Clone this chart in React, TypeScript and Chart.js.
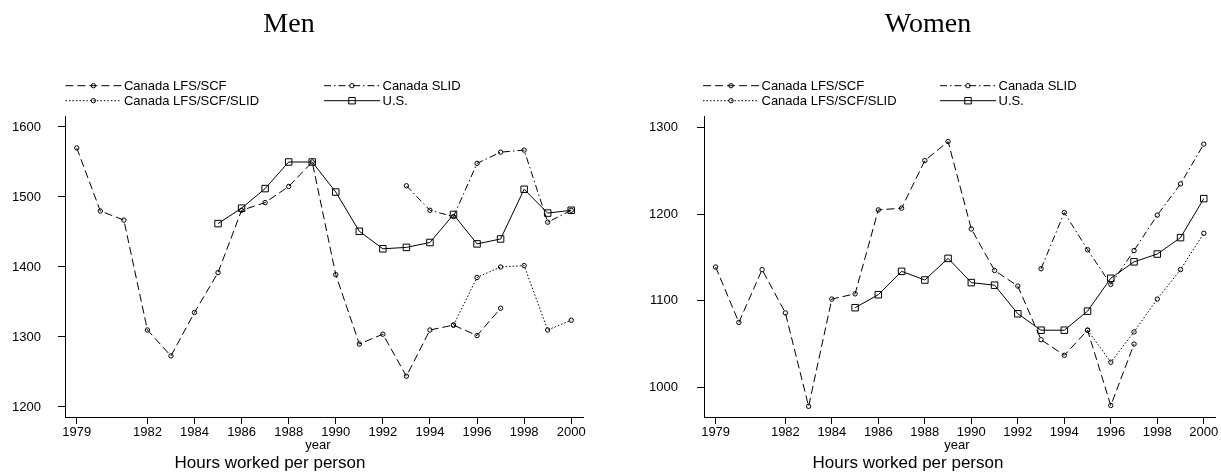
import React, { useEffect, useRef } from "react";
import { Chart, registerables } from "chart.js";

Chart.register(...registerables);

// ---------------- data ----------------
const years = [
  1979, 1980, 1981, 1982, 1983, 1984, 1985, 1986, 1987, 1988, 1989,
  1990, 1991, 1992, 1993, 1994, 1995, 1996, 1997, 1998, 1999, 2000,
];
const xTickYears = [1979, 1982, 1984, 1986, 1988, 1990, 1992, 1994, 1996, 1998, 2000];

const menYTicks = [1200, 1300, 1400, 1500, 1600];
const womenYTicks = [1000, 1100, 1200, 1300];

const seriesLabels = ["Canada LFS/SCF", "Canada SLID", "Canada LFS/SCF/SLID", "U.S."];

const menLfsScf = [
  1570, 1480, 1467, 1310, 1273, 1335, 1392, 1481, 1492, 1515, 1550,
  1389, 1290, 1304, 1244, 1310, 1317, 1302, 1341, null, null, null,
];
const menSlid = [
  null, null, null, null, null, null, null, null, null, null, null,
  null, null, null, 1516, 1481, 1472, 1548, 1564, 1567, 1464, 1481,
];
const menLfsScfSlid = [
  null, null, null, null, null, null, null, null, null, null, null,
  null, null, null, null, null, 1317, 1385, 1400, 1402, 1310, 1324,
];
const menUS = [
  null, null, null, null, null, null, 1462, 1484, 1512, 1550, 1550,
  1507, 1451, 1426, 1428, 1435, 1475, 1433, 1440, 1511, 1477, 1481,
];

const womenLfsScf = [
  1139, 1075, 1136, 1086, 978, 1102, 1108, 1205, 1207, 1262, 1284,
  1183, 1135, 1117, 1055, 1037, 1066, 979, 1050, null, null, null,
];
const womenSlid = [
  null, null, null, null, null, null, null, null, null, null, null,
  null, null, null, 1137, 1202, 1159, 1119, 1158, 1199, 1235, 1281,
];
const womenLfsScfSlid = [
  null, null, null, null, null, null, null, null, null, null, null,
  null, null, null, null, null, 1066, 1029, 1064, 1102, 1136, 1178,
];
const womenUS = [
  null, null, null, null, null, null, 1092, 1107, 1134, 1124, 1149,
  1121, 1118, 1085, 1066, 1066, 1088, 1126, 1145, 1154, 1173, 1218,
];

// ---------------- styles ----------------
const W = 1221;
const H = 474;
const SANS = "'Liberation Sans', Arial, Helvetica, sans-serif";
const SERIF = "'Liberation Serif', 'Times New Roman', serif";
const INK = "#000";

const lineStyles = [
  { dash: [8, 4], point: "circle", radius: 2.2 },
  { dash: [7, 3, 1.5, 3], point: "circle", radius: 2.2 },
  { dash: [1.5, 2], point: "circle", radius: 2.2 },
  { dash: [], point: "rect", radius: 4.6 },
];

function toPoints(vals: (number | null)[]) {
  const pts: { x: number; y: number }[] = [];
  vals.forEach((v, i) => {
    if (v !== null) pts.push({ x: years[i], y: v });
  });
  return pts;
}

const textPlugin = {
  id: "panelText",
  afterDraw(chart: any, _args: any, opts: any) {
    const ctx = chart.ctx;
    ctx.save();
    ctx.fillStyle = INK;
    // title
    ctx.font = `28px ${SERIF}`;
    ctx.textAlign = "center";
    ctx.textBaseline = "alphabetic";
    ctx.fillText(opts.title, opts.titleX, opts.titleY);
    // x axis title
    ctx.font = `13px ${SANS}`;
    ctx.fillText("year", opts.yearX, opts.yearY);
    // caption
    ctx.font = `17px ${SANS}`;
    ctx.fillText("Hours worked per person", opts.capX, opts.capY);
    // legend
    ctx.font = `13px ${SANS}`;
    ctx.textAlign = "left";
    ctx.textBaseline = "middle";
    chart.data.datasets.forEach((ds: any, i: number) => {
      const col = i % 2;
      const row = Math.floor(i / 2);
      const x0 = opts.legendCols[col];
      const y0 = opts.legendRows[row];
      const len = 56;
      ctx.save();
      ctx.strokeStyle = INK;
      ctx.lineWidth = 1;
      ctx.setLineDash(ds.borderDash || []);
      ctx.beginPath();
      ctx.moveTo(x0, y0);
      ctx.lineTo(x0 + len, y0);
      ctx.stroke();
      ctx.setLineDash([]);
      const mx = x0 + len / 2;
      ctx.beginPath();
      if (ds.pointStyle === "rect") {
        const s = ds.pointRadius * Math.SQRT1_2;
        ctx.rect(mx - s, y0 - s, 2 * s, 2 * s);
      } else {
        ctx.arc(mx, y0, ds.pointRadius, 0, Math.PI * 2);
      }
      ctx.stroke();
      ctx.restore();
      ctx.fillText(ds.label, x0 + len + 2.5, y0 + 0.5);
    });
    ctx.restore();
  },
};

interface Panel {
  title: string;
  series: (number | null)[][];
  yTicks: number[];
  yMin: number;
  yMax: number;
  left: number;
  right: number;
  top: number;
  bottom: number;
  titleX: number;
  yearX: number;
  capX: number;
  legendCols: number[];
  yPad: number;
}

function makeConfig(p: Panel): any {
  const datasets = p.series.map((vals, i) => ({
    label: seriesLabels[i],
    data: toPoints(vals),
    borderColor: INK,
    borderWidth: 1,
    borderDash: lineStyles[i].dash,
    pointStyle: lineStyles[i].point,
    pointRadius: lineStyles[i].radius,
    pointBorderColor: INK,
    pointBackgroundColor: "rgba(0,0,0,0)",
    pointBorderWidth: 1,
    fill: false,
    tension: 0,
    spanGaps: false,
  }));
  return {
    type: "line",
    data: { datasets },
    options: {
      responsive: false,
      animation: false,
      events: [],
      layout: { padding: { left: 0, top: p.top, right: W - p.right, bottom: 0 } },
      plugins: {
        legend: { display: false },
        tooltip: { enabled: false },
        title: { display: false },
        panelText: {
          title: p.title,
          titleX: p.titleX,
          titleY: 32,
          yearX: p.yearX,
          yearY: 449,
          capX: p.capX,
          capY: 468,
          legendCols: p.legendCols,
          legendRows: [85.7, 100.7],
        },
      },
      scales: {
        x: {
          type: "linear",
          min: 1978.5,
          max: 2000.5,
          afterBuildTicks: (s: any) => {
            s.ticks = xTickYears.map((v) => ({ value: v }));
          },
          afterFit: (s: any) => {
            s.height = H - p.bottom;
          },
          ticks: {
            autoSkip: false,
            maxRotation: 0,
            minRotation: 0,
            padding: 1,
            color: INK,
            font: { family: SANS, size: 13 },
            callback: (v: any) => String(v),
          },
          grid: { drawOnChartArea: false, drawTicks: true, tickLength: 7, color: INK, lineWidth: 1 },
          border: { display: true, color: INK, width: 1 },
        },
        y: {
          type: "linear",
          min: p.yMin,
          max: p.yMax,
          afterBuildTicks: (s: any) => {
            s.ticks = p.yTicks.map((v) => ({ value: v }));
          },
          afterFit: (s: any) => {
            s.width = p.left;
          },
          ticks: {
            padding: p.yPad,
            color: INK,
            font: { family: SANS, size: 13 },
            callback: (v: any) => String(v),
          },
          grid: { drawOnChartArea: false, drawTicks: true, tickLength: 7, color: INK, lineWidth: 1 },
          border: { display: true, color: INK, width: 1 },
        },
      },
    },
    plugins: [textPlugin],
  };
}

const menPanel: Panel = {
  title: "Men",
  series: [menLfsScf, menSlid, menLfsScfSlid, menUS],
  yTicks: menYTicks,
  yMin: 1185.7,
  yMax: 1615.7,
  left: 65,
  right: 583,
  top: 116,
  bottom: 417,
  titleX: 289,
  yearX: 318,
  capX: 270,
  legendCols: [65.4, 324],
  yPad: 17,
};

const womenPanel: Panel = {
  title: "Women",
  series: [womenLfsScf, womenSlid, womenLfsScfSlid, womenUS],
  yTicks: womenYTicks,
  yMin: 965.7,
  yMax: 1313.5,
  left: 704,
  right: 1220,
  top: 116,
  bottom: 417,
  titleX: 928,
  yearX: 957,
  capX: 908,
  legendCols: [703, 940],
  yPad: 19,
};

function ChartCanvas({ panel }: { panel: Panel }) {
  const ref = useRef<HTMLCanvasElement>(null);
  useEffect(() => {
    if (!ref.current) return;
    const chart = new Chart(ref.current, makeConfig(panel));
    return () => chart.destroy();
  }, [panel]);
  return (
    <canvas
      ref={ref}
      width={W}
      height={H}
      style={{ position: "absolute", left: 0, top: 0, width: W, height: H }}
    />
  );
}

export default function App() {
  return (
    <div
      style={{
        position: "absolute",
        left: 0,
        top: 0,
        width: W,
        height: H,
        background: "#fff",
        overflow: "hidden",
      }}
    >
      <ChartCanvas panel={menPanel} />
      <ChartCanvas panel={womenPanel} />
    </div>
  );
}
